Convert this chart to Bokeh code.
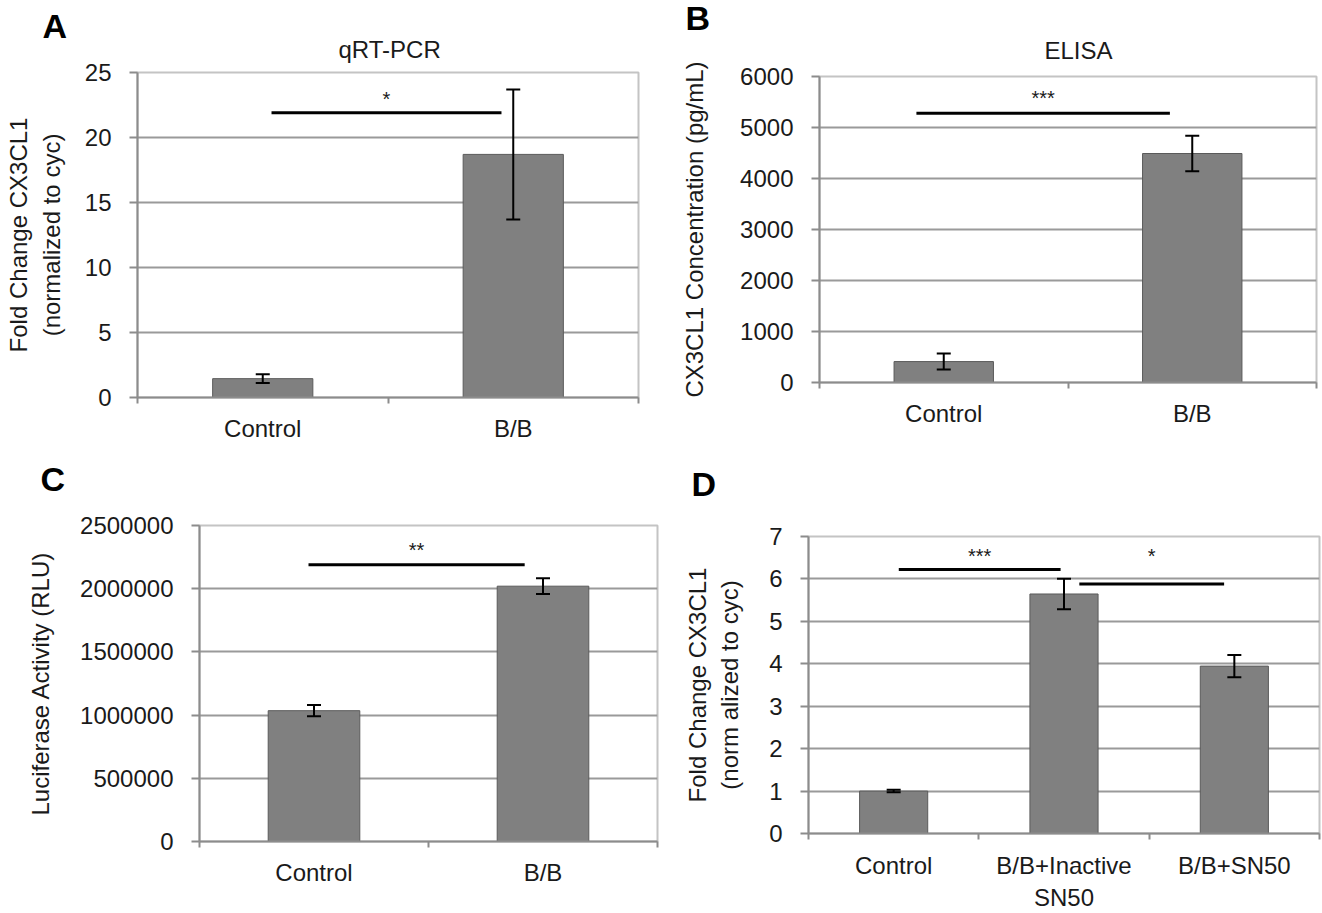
from bokeh.plotting import figure
from bokeh.models import Range1d, FixedTicker, Whisker, TeeHead, ColumnDataSource, Title
from bokeh.layouts import column, row
from bokeh.embed import file_html
from bokeh.resources import INLINE
from bokeh.core.properties import value

FONT = "Liberation Sans"

# ---------------- data ----------------
A_CATS = ["Control", "B/B"]
A_VALS = [1.45, 18.7]
A_ERRS = [0.33, 5.0]
A_YTICKS = [0, 5, 10, 15, 20, 25]
A_SIG_X0 = [0.535]
A_SIG_X1 = [1.453]
A_SIG_Y = [21.9]
A_SIG_TXT = ["*"]
A_SIG_TY = [23.0]

B_CATS = ["Control", "B/B"]
B_VALS = [410, 4490]
B_ERRS = [157, 350]
B_YTICKS = [0, 1000, 2000, 3000, 4000, 5000, 6000]
B_SIG_X0 = [0.39]
B_SIG_X1 = [1.41]
B_SIG_Y = [5280]
B_SIG_TXT = ["***"]
B_SIG_TY = [5570]

C_CATS = ["Control", "B/B"]
C_VALS = [1035000, 2020000]
C_ERRS = [45000, 62000]
C_YTICKS = [0, 500000, 1000000, 1500000, 2000000, 2500000]
C_SIG_X0 = [0.476]
C_SIG_X1 = [1.42]
C_SIG_Y = [2190000]
C_SIG_TXT = ["**"]
C_SIG_TY = [2310000]

D_CATS = ["Control", "B/B+Inactive\nSN50", "B/B+SN50"]
D_VALS = [1.0, 5.645, 3.945]
D_ERRS = [0.03, 0.36, 0.26]
D_YTICKS = [0, 1, 2, 3, 4, 5, 6, 7]
D_SIG_X0 = [0.53, 1.59]
D_SIG_X1 = [1.48, 2.44]
D_SIG_Y = [6.22, 5.88]
D_SIG_TXT = ["***", "*"]
D_SIG_TY = [6.53, 6.53]

GRID = "#9a9a9a"
AXIS = "#8c8c8c"
TXT = "#1a1a1a"
FS = "24px"


def panel(cats, vals, errs, yticks, sx0, sx1, sy, stxt, sty, ylabel, title,
          letter, g):
    n = len(cats)
    p = figure(width=g["w"], height=g["h"], output_backend="svg",
               toolbar_location=None,
               min_border_left=g["l"], min_border_right=g["r"],
               min_border_top=g["t"], min_border_bottom=g["b"],
               x_range=Range1d(0, n), y_range=Range1d(0, yticks[-1]))
    p.outline_line_color = "#c4c4c4"
    p.outline_line_width = 2
    p.background_fill_color = "white"
    p.border_fill_color = "white"

    xs = [i + 0.5 for i in range(n)]
    p.vbar(x=xs, top=vals, width=0.4, fill_color="#808080",
           line_color="#5a5a5a", line_width=1)
    src = ColumnDataSource(dict(base=xs,
                                upper=[v + e for v, e in zip(vals, errs)],
                                lower=[v - e for v, e in zip(vals, errs)]))
    w = Whisker(source=src, base="base", upper="upper", lower="lower",
                dimension="height", line_color="black", line_width=2,
                level="overlay",
                upper_head=TeeHead(size=14, line_width=2, line_color="black"),
                lower_head=TeeHead(size=14, line_width=2, line_color="black"))
    p.add_layout(w)

    p.segment(x0=sx0, y0=sy, x1=sx1, y1=sy, line_color="black", line_width=3)
    p.text(x=[(a + b) / 2 for a, b in zip(sx0, sx1)], y=sty, text=stxt,
           text_align="center", text_baseline="middle",
           text_font=value(FONT), text_font_size="20px", text_color=TXT)

    p.xgrid.visible = False
    p.ygrid.ticker = FixedTicker(ticks=yticks)
    p.ygrid.grid_line_color = GRID
    p.ygrid.grid_line_width = 2

    ya = p.yaxis[0]
    ya.ticker = FixedTicker(ticks=yticks, minor_ticks=[])
    ya.major_label_overrides = {t: str(t) for t in yticks}
    ya.axis_line_color = AXIS
    ya.axis_line_width = 2
    ya.major_tick_line_color = AXIS
    ya.major_tick_line_width = 2
    ya.major_tick_out = 8
    ya.major_tick_in = 0
    ya.minor_tick_line_color = None
    ya.major_label_standoff = 18
    ya.major_label_text_font = FONT
    ya.major_label_text_font_size = FS
    ya.major_label_text_color = TXT
    ya.axis_label = ylabel
    ya.axis_label_text_font = FONT
    ya.axis_label_text_font_size = FS
    ya.axis_label_text_font_style = "normal"
    ya.axis_label_text_color = TXT
    ya.axis_label_standoff = g["ls"]

    xa = p.xaxis[0]
    xa.ticker = FixedTicker(ticks=xs, minor_ticks=list(range(n + 1)))
    xa.major_label_overrides = {x: c for x, c in zip(xs, cats)}
    xa.axis_line_color = AXIS
    xa.axis_line_width = 2
    xa.major_tick_line_color = None
    xa.major_tick_out = 0
    xa.major_tick_in = 0
    xa.minor_tick_line_color = AXIS
    xa.minor_tick_line_width = 2
    xa.minor_tick_out = 6
    xa.minor_tick_in = 0
    xa.major_label_standoff = g["xs"]
    xa.major_label_text_font = FONT
    xa.major_label_text_font_size = FS
    xa.major_label_text_color = TXT

    if title:
        p.add_layout(Title(text=title, align="left", offset=g["to"],
                           standoff=g["ts"], text_font=FONT,
                           text_font_size=FS, text_font_style="normal",
                           text_color=TXT), "above")
    else:
        # empty spacer between the frame and the panel letter
        p.add_layout(Title(text=" ", align="left", standoff=g["sp"],
                           text_font=FONT, text_font_size="1px"), "above")
    p.add_layout(Title(text=letter, align="left", offset=g["lo"],
                       standoff=g["lsd"], text_font=FONT,
                       text_font_size="34px", text_font_style="bold",
                       text_color="black"), "above")
    return p


pA = panel(A_CATS, A_VALS, A_ERRS, A_YTICKS, A_SIG_X0, A_SIG_X1, A_SIG_Y,
           A_SIG_TXT, A_SIG_TY, "Fold Change CX3CL1\n(normalized to cyc)",
           "qRT-PCR", "A",
           dict(w=662, h=450, l=137, r=24, t=72, b=53, ls=17, xs=11,
                to=201, ts=19, lo=-95, lsd=-41))
pB = panel(B_CATS, B_VALS, B_ERRS, B_YTICKS, B_SIG_X0, B_SIG_X1, B_SIG_Y,
           B_SIG_TXT, B_SIG_TY, "CX3CL1 Concentration (pg/mL)",
           "ELISA", "B",
           dict(w=660, h=450, l=157, r=6, t=76, b=68, ls=29, xs=11,
                to=225, ts=26, lo=-134, lsd=-31))
pC = panel(C_CATS, C_VALS, C_ERRS, C_YTICKS, C_SIG_X0, C_SIG_X1, C_SIG_Y,
           C_SIG_TXT, C_SIG_TY, "Luciferase Activity (RLU)",
           None, "C",
           dict(w=662, h=463, l=199, r=5, t=75, b=72, ls=23, xs=11,
                sp=25, lo=-159, lsd=0))
pD = panel(D_CATS, D_VALS, D_ERRS, D_YTICKS, D_SIG_X0, D_SIG_X1, D_SIG_Y,
           D_SIG_TXT, D_SIG_TY, "Fold Change CX3CL1\n(norm alized to cyc)",
           None, "D",
           dict(w=660, h=463, l=146, r=3, t=86, b=71, ls=23, xs=12,
                sp=31, lo=-117, lsd=0))

layout = column(row(column(pA), column(pB)), row(column(pC), column(pD)))
open("out.html", "w").write(file_html(layout, INLINE))
